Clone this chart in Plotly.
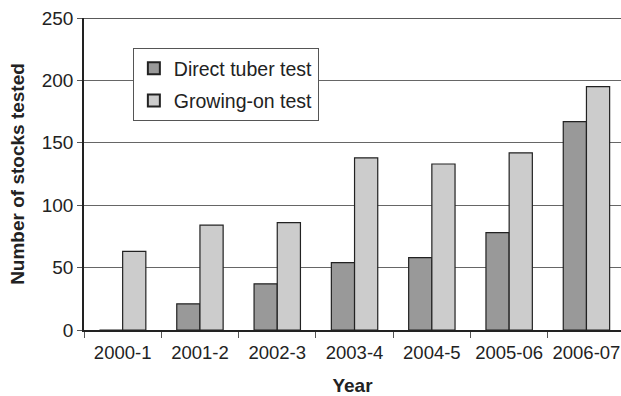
import plotly.graph_objects as go

years = ["2000-1", "2001-2", "2002-3", "2003-4", "2004-5", "2005-06", "2006-07"]
direct_tuber = [0, 21, 37, 54, 58, 78, 167]
growing_on = [63, 84, 86, 138, 133, 142, 195]

font_family = "Liberation Sans, Arial, sans-serif"

fig = go.Figure()
fig.add_trace(go.Bar(
    x=years, y=direct_tuber, name="Direct tuber test",
    marker=dict(color="#999999", line=dict(color="#222222", width=1.2)),
    legendgroup="a",
))
fig.add_trace(go.Bar(
    x=years, y=growing_on, name="Growing-on test",
    marker=dict(color="#cccccc", line=dict(color="#222222", width=1.2)),
    legendgroup="b",
))

fig.update_layout(
    width=621, height=396,
    margin=dict(l=84, r=0, t=18, b=66),
    paper_bgcolor="white", plot_bgcolor="white",
    barmode="group", bargap=0.4, bargroupgap=0,
    font=dict(family=font_family, size=19, color="#222222"),
    showlegend=True,
    legend=dict(
        x=0.091, y=0.904, xanchor="left", yanchor="top",
        bgcolor="white", bordercolor="#555555", borderwidth=1,
        font=dict(size=19.5, color="#222222"),
        tracegroupgap=4, itemsizing="constant", itemwidth=30,
    ),
    xaxis=dict(
        type="category", range=[-0.5, 6.447], automargin=False,
        showline=True, linecolor="#222222", linewidth=1.5,
        ticks="outside", tickson="boundaries", ticklen=6, tickcolor="#555555",
        ticklabelstandoff=5,
        showgrid=False,
        title=dict(text="<b>Year</b>", font=dict(size=19), standoff=19),
        tickfont=dict(size=18.5),
    ),
    yaxis=dict(
        range=[0, 250], tickvals=[0, 50, 100, 150, 200, 250], automargin=False,
        showline=True, linecolor="#222222", linewidth=1.5,
        ticks="outside", ticklen=5, tickcolor="#555555",
        showgrid=True, gridcolor="#666666", gridwidth=1,
        zeroline=False,
        title=dict(text="<b>Number of stocks tested</b>", font=dict(size=19), standoff=12),
        tickfont=dict(size=19),
    ),
)

# top border line at 250
fig.add_shape(type="line", xref="paper", yref="y", x0=0, x1=1, y0=250, y1=250,
              line=dict(color="#222222", width=1.5))

fig.write_html("out.html", config={"displayModeBar": False},
               post_script="document.body.style.margin='0';")
